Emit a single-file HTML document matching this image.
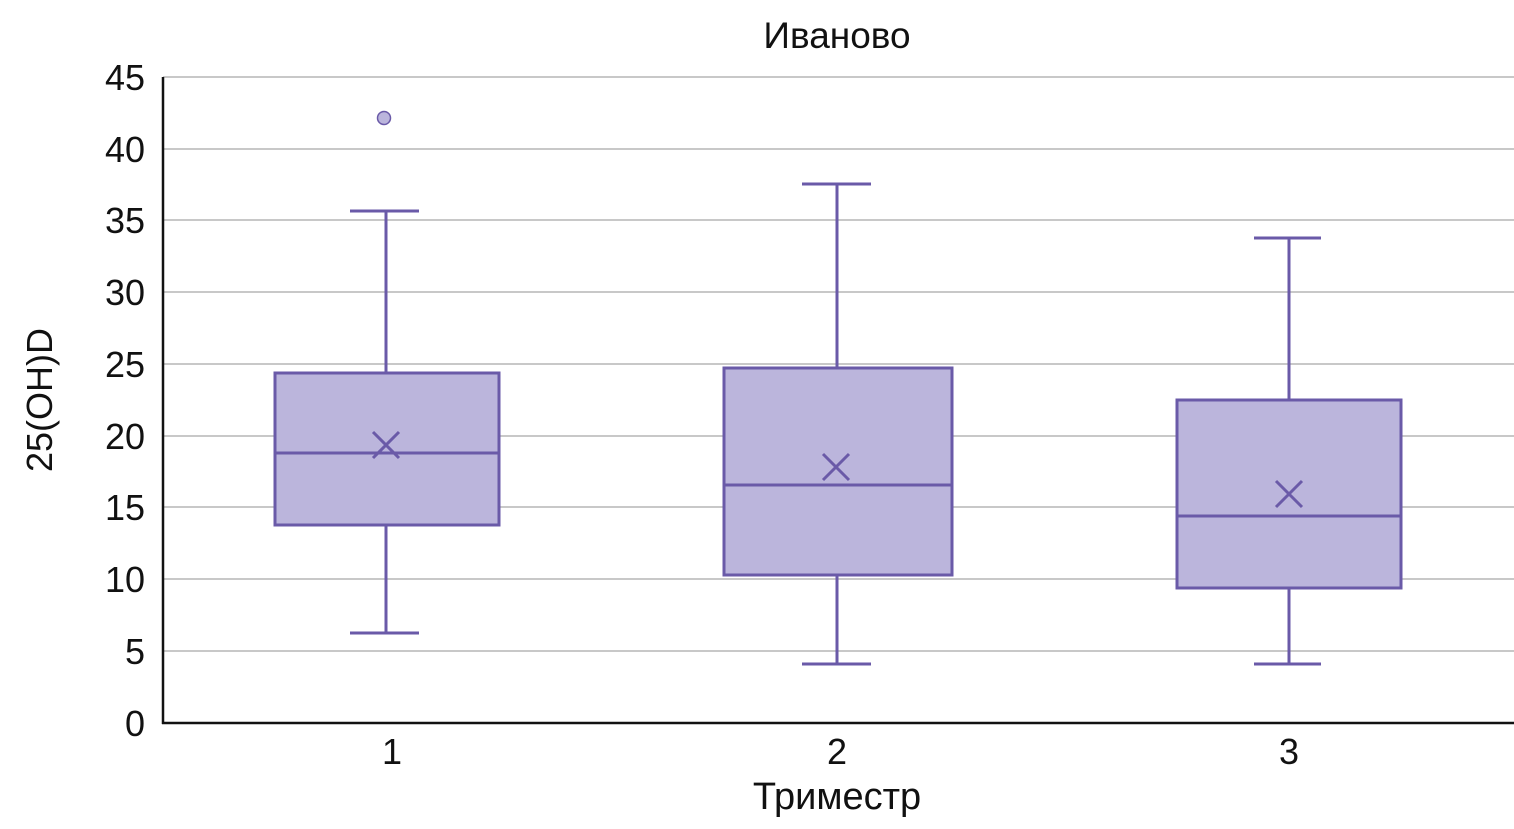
<!DOCTYPE html>
<html><head><meta charset="utf-8"><style>
html,body{margin:0;padding:0;background:#fff;}
svg{display:block;}
text{font-family:"Liberation Sans","DejaVu Sans",sans-serif;fill:#111;}
</style></head><body>
<svg width="1514" height="829" viewBox="0 0 1514 829" xmlns="http://www.w3.org/2000/svg">
<text x="837" y="48" font-size="37" text-anchor="middle">Иваново</text>
<g stroke="#a8a8a8" stroke-width="1.3">
<line x1="163" x2="1514" y1="77" y2="77"/>
<line x1="163" x2="1514" y1="149" y2="149"/>
<line x1="163" x2="1514" y1="220" y2="220"/>
<line x1="163" x2="1514" y1="292" y2="292"/>
<line x1="163" x2="1514" y1="364" y2="364"/>
<line x1="163" x2="1514" y1="436" y2="436"/>
<line x1="163" x2="1514" y1="507" y2="507"/>
<line x1="163" x2="1514" y1="579" y2="579"/>
<line x1="163" x2="1514" y1="651" y2="651"/>
</g>
<g font-size="36" text-anchor="end">
<text x="145" y="90">45</text><text x="145" y="162">40</text><text x="145" y="233">35</text>
<text x="145" y="305">30</text><text x="145" y="377">25</text><text x="145" y="449">20</text>
<text x="145" y="520">15</text><text x="145" y="592">10</text><text x="145" y="664">5</text>
<text x="145" y="736">0</text>
</g>
<text transform="translate(52,400) rotate(-90)" font-size="36" text-anchor="middle">25(OH)D</text>
<g fill="#bbb5dc" stroke="#6a5aa8" stroke-width="3">
<line x1="386" x2="386" y1="211" y2="373"/><line x1="386" x2="386" y1="525" y2="633"/>
<line x1="350" x2="419" y1="211" y2="211"/><line x1="350" x2="419" y1="633" y2="633"/>
<rect x="275" y="373" width="224" height="152"/>
<line x1="275" x2="499" y1="453" y2="453"/>
<path d="M373 432 L399 458 M399 432 L373 458" fill="none"/>
<circle cx="384" cy="118" r="6.5" stroke-width="1.5"/>

<line x1="837" x2="837" y1="184" y2="368"/><line x1="837" x2="837" y1="575" y2="664"/>
<line x1="802" x2="871" y1="184" y2="184"/><line x1="802" x2="871" y1="664" y2="664"/>
<rect x="724" y="368" width="228" height="207"/>
<line x1="724" x2="952" y1="485" y2="485"/>
<path d="M823 454 L849 480 M849 454 L823 480" fill="none"/>

<line x1="1289" x2="1289" y1="238" y2="400"/><line x1="1289" x2="1289" y1="588" y2="664"/>
<line x1="1254" x2="1321" y1="238" y2="238"/><line x1="1254" x2="1321" y1="664" y2="664"/>
<rect x="1177" y="400" width="224" height="188"/>
<line x1="1177" x2="1401" y1="516" y2="516"/>
<path d="M1276 481 L1302 507 M1302 481 L1276 507" fill="none"/>
</g>
<g stroke="#111" stroke-width="2.5">
<line x1="163" x2="163" y1="77" y2="724"/>
<line x1="162" x2="1514" y1="723" y2="723"/>
</g>
<g font-size="36" text-anchor="middle">
<text x="392" y="764">1</text><text x="837" y="764">2</text><text x="1289" y="764">3</text>
</g>
<text x="837" y="809" font-size="38" text-anchor="middle">Триместр</text>
</svg>
</body></html>
